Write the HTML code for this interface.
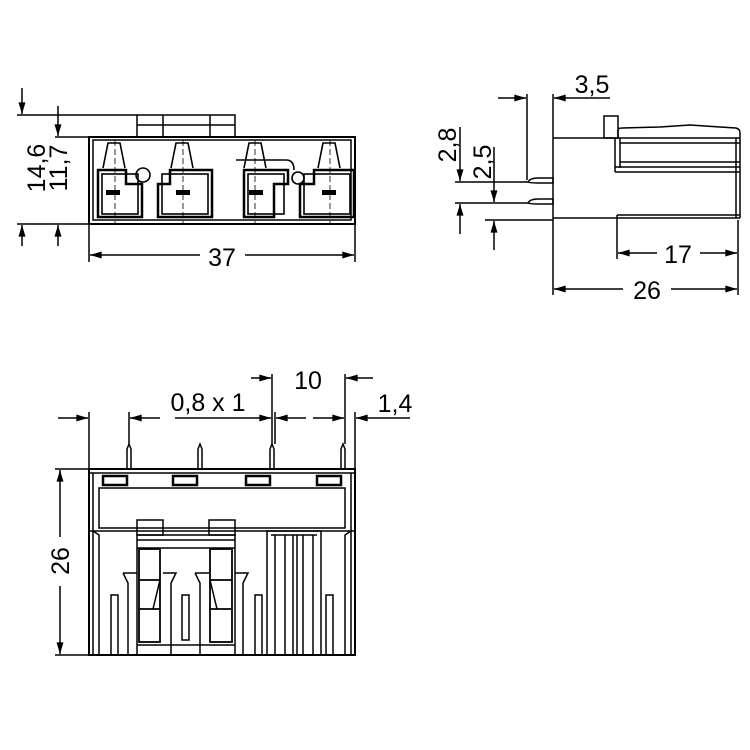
<!DOCTYPE html>
<html><head><meta charset="utf-8"><style>
html,body{margin:0;padding:0;background:#fff;}
svg{display:block}
text{font-family:"Liberation Sans",sans-serif;font-size:25px;fill:#000}
</style></head><body>
<svg width="750" height="750" viewBox="0 0 750 750" xmlns="http://www.w3.org/2000/svg">
<defs>
<marker id="a" viewBox="0 0 10 6" refX="10" refY="3" markerWidth="12" markerHeight="7" orient="auto" markerUnits="userSpaceOnUse"><path d="M0,0 L10,3 L0,6 z" fill="#000"/></marker>
</defs>
<g stroke="#000" stroke-width="1.5" fill="none">
<!-- ===== FRONT VIEW ===== -->
<rect x="137" y="115" width="98" height="22"/>
<line x1="163" y1="115" x2="163" y2="137"/><line x1="210" y1="115" x2="210" y2="137"/>
<line x1="137" y1="125" x2="235" y2="125"/>
<rect x="89" y="137" width="266" height="87" stroke-width="2"/>
<rect x="93" y="140" width="258" height="80"/>
<g stroke-width="1.6">
<path d="M98 170 h28 v14 h16 v33 h-44 z" stroke-width="2.5"/>
<rect x="102" y="174" width="36" height="40"/>
<path d="M158 184 h12 v-14 h42 v47 h-54 z" stroke-width="2.5"/>
<rect x="162" y="174" width="46" height="40"/>
<path d="M244 170 h44 v14 h-14 v33 h-30 z" stroke-width="2.5"/>
<rect x="248" y="174" width="36" height="40"/>
<path d="M300 184 h14 v-14 h40 v47 h-54 z" stroke-width="2.5"/>
<rect x="304" y="174" width="46" height="40"/>
</g>
<g fill="#000" stroke="none">
<rect x="106" y="190" width="14" height="5"/><rect x="176" y="190" width="14" height="5"/>
<rect x="249" y="190" width="14" height="5"/><rect x="322" y="190" width="14" height="5"/>
</g>
<g stroke-width="1.6">
<path d="M103 168 L108 143 h12 l5 25"/><path d="M171 168 L176 143 h12 l5 25"/>
<path d="M244 168 L249 143 h12 l5 25"/><path d="M318 168 L323 143 h12 l5 25"/>
<circle cx="143" cy="175" r="7"/><circle cx="298" cy="178" r="6"/>
<path d="M236 160 h50 q8 0 8 10"/>
</g>
<g stroke-dasharray="6,3" stroke-width="0.8">
<line x1="115" y1="140" x2="115" y2="224"/><line x1="183" y1="140" x2="183" y2="224"/>
<line x1="255" y1="140" x2="255" y2="224"/><line x1="330" y1="140" x2="330" y2="224"/>
</g>
<line x1="17" y1="115" x2="137" y2="115"/>
<line x1="55" y1="137" x2="89" y2="137"/>
<line x1="17" y1="224" x2="89" y2="224"/>
<line x1="22" y1="88" x2="22" y2="114" marker-end="url(#a)"/>
<line x1="58" y1="106" x2="58" y2="136" marker-end="url(#a)"/>
<line x1="22" y1="246" x2="22" y2="225" marker-end="url(#a)"/>
<line x1="58" y1="246" x2="58" y2="225" marker-end="url(#a)"/>
<line x1="89" y1="224" x2="89" y2="262"/><line x1="355" y1="224" x2="355" y2="262"/>
<line x1="200" y1="255" x2="90" y2="255" marker-end="url(#a)"/>
<line x1="245" y1="255" x2="354" y2="255" marker-end="url(#a)"/>

<!-- ===== SIDE VIEW ===== -->
<rect x="604" y="116" width="14" height="22"/>
<path d="M618 138 V130 q0 -2 4 -2 L660 127 L690 125 L720 127 L736 128 q4 1 4 5 V218"/>
<line x1="553" y1="138" x2="740" y2="138"/>
<line x1="553" y1="138" x2="553" y2="220"/>
<line x1="553" y1="218" x2="740" y2="218"/>
<line x1="617" y1="215" x2="740" y2="215"/>
<line x1="617" y1="215" x2="617" y2="220"/>
<line x1="615" y1="138" x2="615" y2="172"/>
<line x1="620" y1="138" x2="620" y2="168"/>
<line x1="620" y1="143" x2="740" y2="143"/>
<line x1="620" y1="162" x2="740" y2="162"/>
<line x1="615" y1="167" x2="740" y2="167"/>
<line x1="615" y1="172" x2="740" y2="172"/>
<line x1="736" y1="138" x2="736" y2="218"/>
<path d="M528 182 q2 -4 10 -4 h15 v5 h-15 q-8 0 -10 -1"/>
<path d="M528 203 q2 -4 10 -4 h15 v5 h-15 q-8 0 -10 -1"/>
<line x1="527" y1="94" x2="527" y2="180"/>
<line x1="553" y1="94" x2="553" y2="138"/>
<line x1="498" y1="98" x2="526" y2="98" marker-end="url(#a)"/>
<line x1="610" y1="98" x2="554" y2="98" marker-end="url(#a)"/>
<line x1="455" y1="182" x2="528" y2="182"/>
<line x1="455" y1="203" x2="528" y2="203"/>
<line x1="485" y1="220" x2="553" y2="220"/>
<line x1="460" y1="127" x2="460" y2="181" marker-end="url(#a)"/>
<line x1="460" y1="234" x2="460" y2="204" marker-end="url(#a)"/>
<line x1="494" y1="147" x2="494" y2="202" marker-end="url(#a)"/>
<line x1="494" y1="250" x2="494" y2="221" marker-end="url(#a)"/>
<line x1="617" y1="220" x2="617" y2="259"/>
<line x1="553" y1="220" x2="553" y2="295"/>
<line x1="738" y1="220" x2="738" y2="295"/>
<line x1="657" y1="253" x2="618" y2="253" marker-end="url(#a)"/>
<line x1="700" y1="253" x2="737" y2="253" marker-end="url(#a)"/>
<line x1="623" y1="289" x2="554" y2="289" marker-end="url(#a)"/>
<line x1="671" y1="289" x2="737" y2="289" marker-end="url(#a)"/>

<!-- ===== BOTTOM VIEW ===== -->
<path d="M127 469 V449 l2 -5 l2 5 V469"/><path d="M198 469 V449 l2 -5 l2 5 V469"/>
<path d="M270 469 V449 l2 -5 l2 5 V469"/><path d="M341 469 V449 l2 -5 l2 5 V469"/>
<rect x="89" y="469" width="266" height="186" stroke-width="2"/>
<line x1="89" y1="473" x2="355" y2="473"/>
<line x1="93" y1="473" x2="93" y2="655"/><line x1="351" y1="473" x2="351" y2="655"/>
<g stroke-width="2.5">
<rect x="103" y="476" width="24" height="9"/><rect x="173" y="476" width="24" height="9"/>
<rect x="246" y="476" width="24" height="9"/><rect x="317" y="476" width="24" height="9"/>
</g>
<rect x="99" y="488" width="246" height="40"/>
<line x1="89" y1="531" x2="355" y2="531"/>
<rect x="137" y="520" width="26" height="15"/><rect x="209" y="520" width="26" height="15"/>
<rect x="137" y="535" width="98" height="120"/>
<line x1="137" y1="540" x2="235" y2="540"/>
<line x1="137" y1="548" x2="235" y2="548"/>
<line x1="137" y1="645" x2="235" y2="645"/>
<rect x="139" y="549" width="21" height="93" stroke-width="1.8"/>
<rect x="210" y="549" width="22" height="93" stroke-width="1.8"/>
<line x1="139" y1="580" x2="160" y2="580" stroke-width="1.8"/>
<line x1="139" y1="609" x2="160" y2="609" stroke-width="1.8"/>
<line x1="210" y1="580" x2="232" y2="580" stroke-width="1.8"/>
<line x1="210" y1="609" x2="232" y2="609" stroke-width="1.8"/>
<path d="M160 580 L153 609"/><path d="M210 580 L217 609"/>
<path d="M123 573 h14 M123 573 l5 10 v72"/><path d="M163 573 h13 l-5 10 v72"/>
<path d="M195 573 h14 M195 573 l5 10 v72"/><path d="M235 573 h13 l-5 10 v72"/>
<rect x="111" y="595" width="7" height="60"/><rect x="182" y="595" width="7" height="45"/>
<rect x="255" y="595" width="7" height="60"/><rect x="326" y="595" width="7" height="60"/>
<rect x="267" y="531" width="54" height="124"/>
<line x1="271" y1="535" x2="317" y2="535"/>
<line x1="275" y1="535" x2="275" y2="655"/><line x1="285" y1="535" x2="285" y2="655"/>
<line x1="293" y1="535" x2="293" y2="655"/><line x1="297" y1="535" x2="297" y2="655"/>
<line x1="303" y1="535" x2="303" y2="655"/><line x1="313" y1="535" x2="313" y2="655"/>
<path d="M93 531 l6 4 v120"/><path d="M351 531 l-6 4 v120"/>
<line x1="89" y1="412" x2="89" y2="469"/>
<line x1="129" y1="412" x2="129" y2="444"/>
<line x1="272" y1="374" x2="272" y2="444"/>
<line x1="275" y1="412" x2="275" y2="444"/>
<line x1="345" y1="374" x2="345" y2="444"/>
<line x1="355" y1="412" x2="355" y2="469"/>
<line x1="58" y1="418" x2="88" y2="418" marker-end="url(#a)"/>
<line x1="160" y1="418" x2="130" y2="418" marker-end="url(#a)"/>
<line x1="175" y1="418" x2="271" y2="418" marker-end="url(#a)"/>
<line x1="306" y1="418" x2="276" y2="418" marker-end="url(#a)"/>
<line x1="313" y1="418" x2="344" y2="418" marker-end="url(#a)"/>
<line x1="410" y1="418" x2="356" y2="418" marker-end="url(#a)"/>
<line x1="251" y1="378" x2="271" y2="378" marker-end="url(#a)"/>
<line x1="373" y1="378" x2="346" y2="378" marker-end="url(#a)"/>
<line x1="55" y1="469" x2="89" y2="469"/>
<line x1="55" y1="655" x2="89" y2="655"/>
<line x1="60" y1="537" x2="60" y2="470" marker-end="url(#a)"/>
<line x1="60" y1="586" x2="60" y2="654" marker-end="url(#a)"/>
</g>
<text x="222" y="266" text-anchor="middle">37</text>
<text transform="translate(45,168) rotate(-90)" text-anchor="middle">14,6</text>
<text transform="translate(67,168) rotate(-90)" text-anchor="middle">11,7</text>
<text x="592" y="93" text-anchor="middle">3,5</text>
<text transform="translate(456,145) rotate(-90)" text-anchor="middle">2,8</text>
<text transform="translate(491,162) rotate(-90)" text-anchor="middle">2,5</text>
<text x="678" y="263" text-anchor="middle">17</text>
<text x="647" y="299" text-anchor="middle">26</text>
<text x="208" y="411" text-anchor="middle">0,8 x 1</text>
<text x="308" y="389" text-anchor="middle">10</text>
<text x="395" y="412" text-anchor="middle">1,4</text>
<text transform="translate(69,561) rotate(-90)" text-anchor="middle">26</text>
</svg>
</body></html>
